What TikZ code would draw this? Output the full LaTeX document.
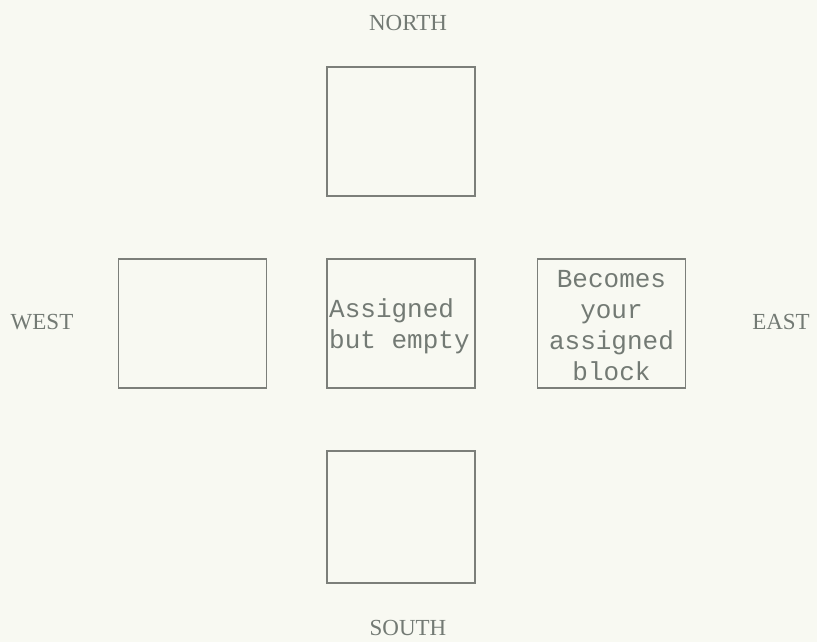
\documentclass[tikz,border=0pt]{standalone}
\usepackage{fontspec}
\setmainfont{Liberation Serif}
\newfontfamily\typer{Liberation Mono}
\definecolor{paper}{HTML}{F8F9F2}
\definecolor{ink}{HTML}{737A74}
\definecolor{boxline}{HTML}{7C7F7A}
\tikzset{
  blockbox/.style={draw=boxline, line width=1.4pt, minimum width=148pt, minimum height=129pt, inner sep=0pt, text=ink, align=center, font=\typer\fontsize{26}{31}\selectfont},
  dirlabel/.style={text=ink, font=\fontsize{23}{26}\selectfont, inner sep=0pt}
}
\begin{document}
\begin{tikzpicture}[x=1pt,y=-1pt]
\fill[paper] (0,0) rectangle (817,642);
\useasboundingbox (0,0) rectangle (817,642);
\node[blockbox] (north) at (401,131.5) {};
\node[blockbox] (west) at (192.5,323.5) {};
\node[blockbox] (center) at (401,323.5) {};
\node[text=ink, align=left, inner sep=0pt, font=\typer\fontsize{26}{31}\selectfont, anchor=west] (ctext) at (329,326) {Assigned\\but empty};
\node[blockbox] (east) at (611.5,323.5) {};
\node[text=ink, align=center, inner sep=0pt, font=\typer\fontsize{26}{31}\selectfont] (etext) at (611.5,326) {Becomes\\your\\assigned\\block};
\node[blockbox, minimum height=132pt] (south) at (401,517) {};
\node[dirlabel] (nl) at (408,23) {NORTH};
\node[dirlabel] (wl) at (42,322) {WEST};
\node[dirlabel] (el) at (781,322) {EAST};
\node[dirlabel] (sl) at (408,628) {SOUTH};
\end{tikzpicture}
\end{document}
